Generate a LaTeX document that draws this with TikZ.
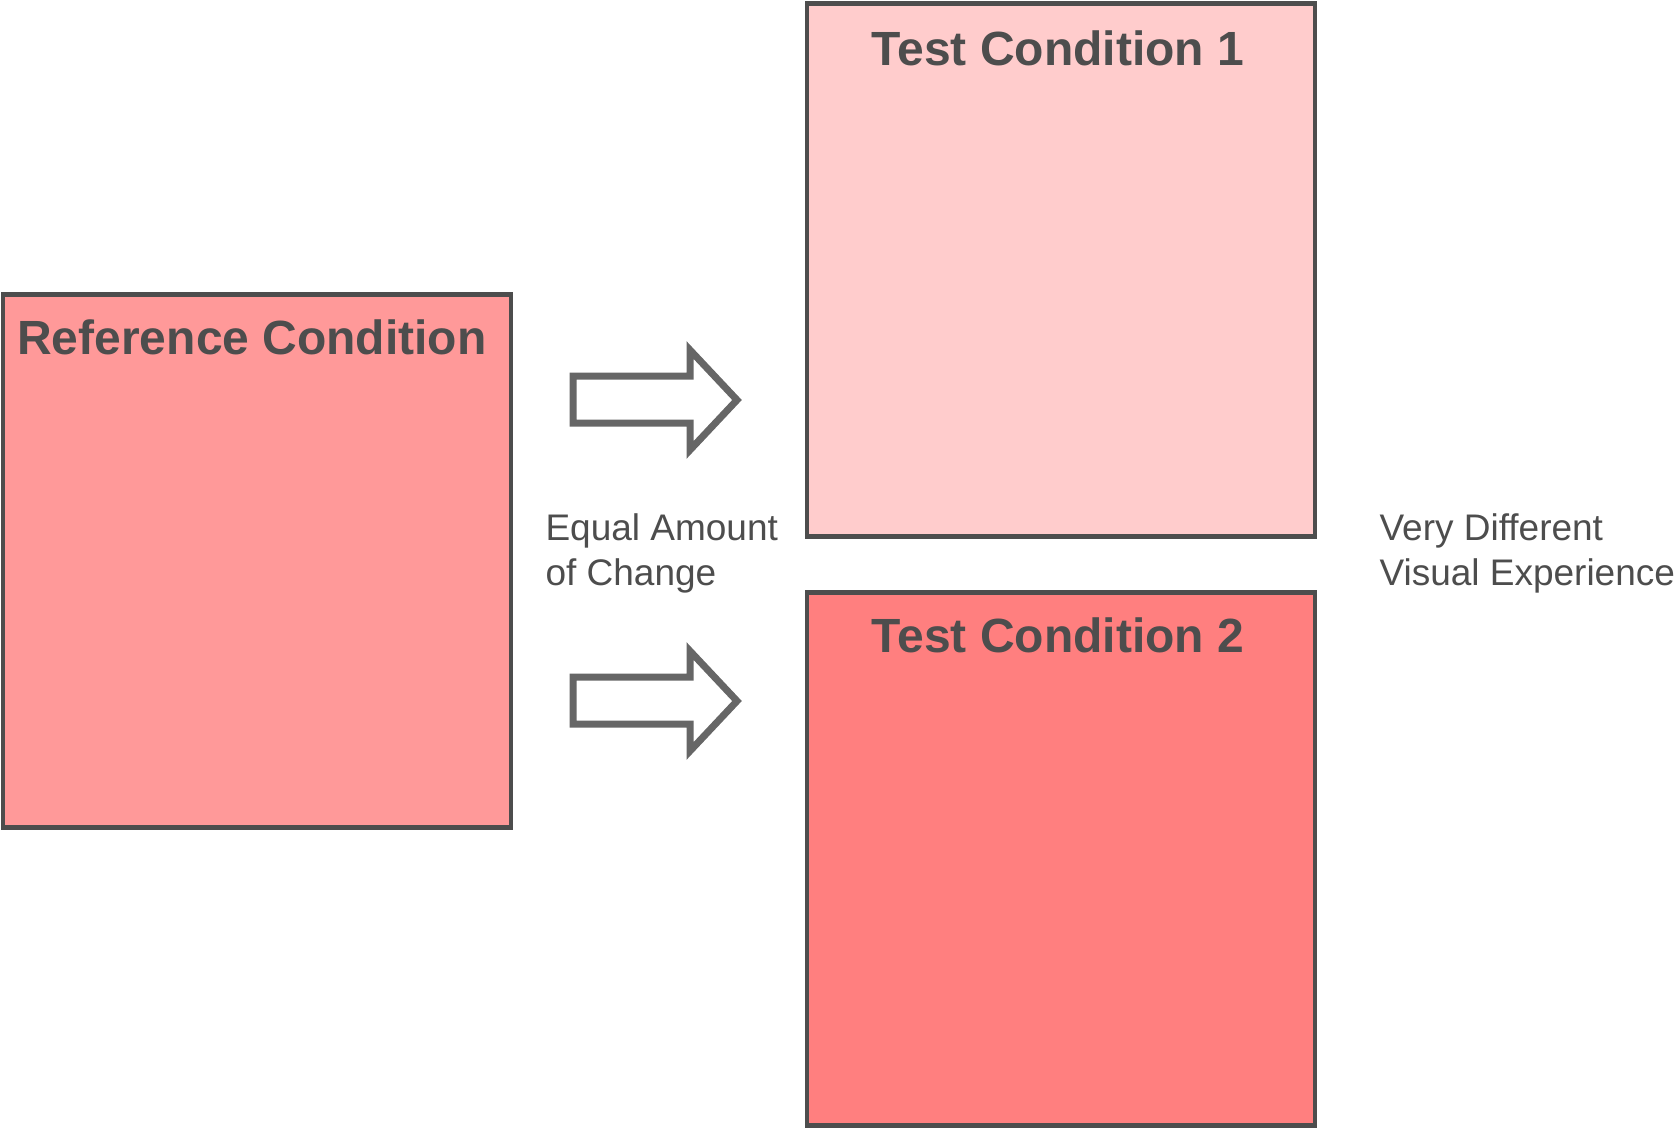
\documentclass[tikz,border=0pt]{standalone}
\usepackage{fontspec}
\setmainfont{Liberation Sans}
\usepackage{tikz}

\definecolor{edgegray}{HTML}{4D4D4D}
\definecolor{arrowgray}{HTML}{666666}
\definecolor{refred}{HTML}{FF9999}
\definecolor{palered}{HTML}{FFCCCC}
\definecolor{deepred}{HTML}{FF7F7F}

\begin{document}
\begin{tikzpicture}[x=1pt,y=-1pt,
   box/.style={rectangle,draw=edgegray,line width=4.5pt,
    minimum width=508pt,minimum height=533pt,inner sep=0pt},
   boxtitle/.style={anchor=base,text=edgegray,
    font=\fontsize{48}{56}\selectfont\bfseries},
   remark/.style={anchor=base west,text=edgegray,align=left,
    font=\fontsize{37}{45}\selectfont},
   blockarrow/.style={draw=arrowgray,fill=white,line width=7pt,
    line join=miter}
    ]
  \useasboundingbox (0,0) rectangle (1677,1128);

  % -- the three conditions
  \node[box,fill=refred] at (257,561) (refbox) {};
  \node[box,fill=palered] at (1061,270) (testone) {};
  \node[box,fill=deepred] at (1061,859) (testtwo) {};

  \node[boxtitle] at ([xshift=-5pt,yshift=-62pt]refbox.north) (reftitle) {Reference Condition};
  \node[boxtitle] at ([xshift=-3pt,yshift=-64pt]testone.north) (onetitle) {Test Condition 1};
  \node[boxtitle] at ([xshift=-3pt,yshift=-62pt]testtwo.north) (twotitle) {Test Condition 2};

  % -- block arrows
  \draw[blockarrow] (573,376) -- (690,376) -- (690,350) -- (737,400)
    -- (690,450) -- (690,423) -- (573,423) -- cycle;
  \draw[blockarrow] (573,677) -- (690,677) -- (690,651) -- (737,701)
    -- (690,751) -- (690,724) -- (573,724) -- cycle;

  % -- remarks (base = last line)
  \node[remark] at (542,585) (equal) {Equal Amount\\of Change};
  \node[remark] at (1376,585) (different) {Very Different\\Visual Experience};

\end{tikzpicture}
\end{document}
